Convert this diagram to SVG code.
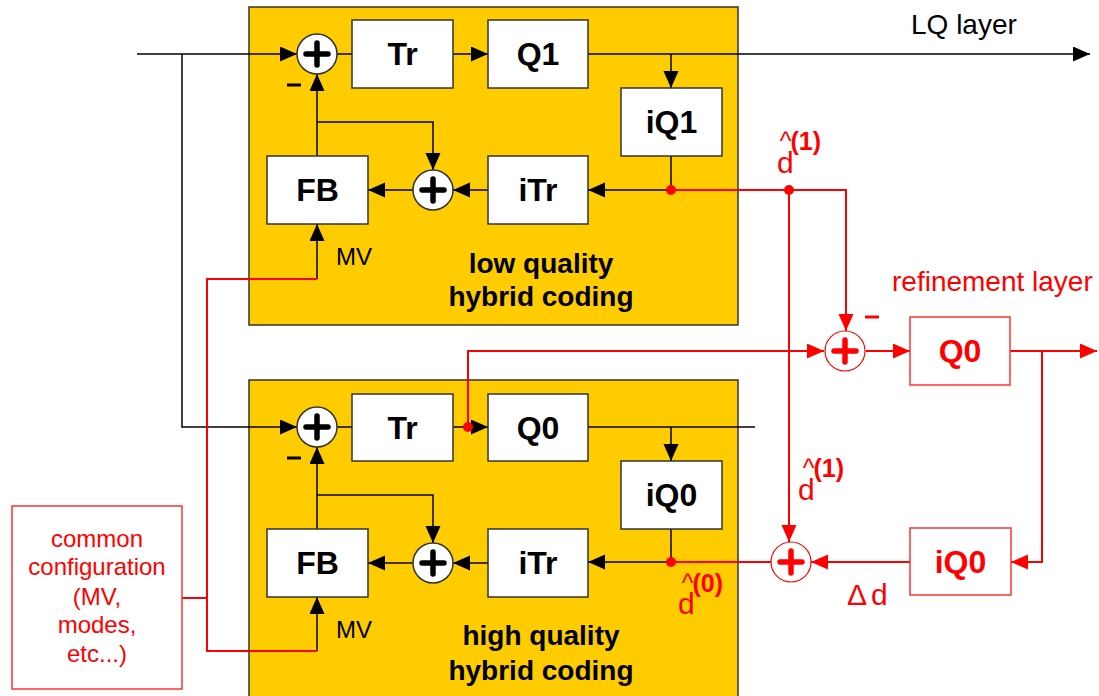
<svg xmlns="http://www.w3.org/2000/svg" width="1099" height="696" viewBox="0 0 1099 696">
<style>
.bg{fill:#fff}
.cont{fill:#FFCC00;stroke:#333;stroke-width:1.5}
.box{fill:#fff;stroke:#333;stroke-width:1.5}
.rbox{fill:#fff;stroke:#f33;stroke-width:1.5}
.lbl{font-family:"Liberation Sans",Arial,sans-serif;font-weight:bold;font-size:32px;text-anchor:middle;fill:#000}
.rlbl{font-family:"Liberation Sans",Arial,sans-serif;font-weight:bold;font-size:32px;text-anchor:middle;fill:#f00}
.big{font-family:"Liberation Sans",Arial,sans-serif;font-weight:bold;font-size:28px;text-anchor:middle;fill:#000}
.txt{font-family:"Liberation Sans",Arial,sans-serif;font-size:28px;fill:#000}
.rtxt{font-family:"Liberation Sans",Arial,sans-serif;font-size:28px;fill:#f00}
.dd{font-family:"Liberation Sans",Arial,sans-serif;font-size:30px;fill:#f00}
.cfg{font-family:"Liberation Sans",Arial,sans-serif;font-size:24px;text-anchor:middle;fill:#f00}
.mv{font-family:"Liberation Sans",Arial,sans-serif;font-size:24px;fill:#000}
.sup{font-size:25px}
.k{fill:none;stroke:#000;stroke-width:1.5}
.r{fill:none;stroke:#f00;stroke-width:2}
.sum{fill:#fff;stroke:#333;stroke-width:1.5}
.rsum{fill:#fff;stroke:#f00;stroke-width:1.2}
.plus{stroke:#000;stroke-width:5.5;stroke-linecap:round}
.rplus{stroke:#f00;stroke-width:5.5;stroke-linecap:round}
.dot{fill:#f00}
</style>
<defs>
<marker id="ak" markerUnits="userSpaceOnUse" markerWidth="18" markerHeight="16" refX="17" refY="7.5" orient="auto"><path d="M0,0 L17,7.5 L0,15 z" fill="#000"/></marker>
<marker id="ar" markerUnits="userSpaceOnUse" markerWidth="18" markerHeight="16" refX="17" refY="7.5" orient="auto"><path d="M0,0 L17,7.5 L0,15 z" fill="#f00"/></marker>
</defs>
<rect class="bg" x="0" y="0" width="1099" height="696"/>

<g id="lq-container"><rect class="cont" x="249" y="7" width="489" height="318"/>
<text class="big" x="541" y="273">low quality</text><text class="big" x="541" y="306">hybrid coding</text></g>
<g id="hq-container"><rect class="cont" x="249" y="380" width="489" height="320"/>
<text class="big" x="541" y="645">high quality</text><text class="big" x="541" y="680">hybrid coding</text></g>

<g id="connectors">
<path class="k" d="M137,54 H297" marker-end="url(#ak)"/>
<path class="k" d="M182,54 V427 H297" marker-end="url(#ak)"/>
<path class="k" d="M337,54 H352"/>
<path class="k" d="M453,54 H488" marker-end="url(#ak)"/>
<path class="k" d="M588,54 H1090" marker-end="url(#ak)"/>
<path class="k" d="M671,54 V88" marker-end="url(#ak)"/>
<path class="k" d="M671,156 V190"/>
<path class="k" d="M671,190 H588" marker-end="url(#ak)"/>
<path class="k" d="M488,190 H453" marker-end="url(#ak)"/>
<path class="k" d="M413,190 H368" marker-end="url(#ak)"/>
<path class="k" d="M317,156 V74" marker-end="url(#ak)"/>
<path class="k" d="M317,122 H433 V170" marker-end="url(#ak)"/>
<path class="k" d="M317,279 V224" marker-end="url(#ak)"/>
<path class="k" d="M337,427 H352"/>
<path class="k" d="M453,427 H488" marker-end="url(#ak)"/>
<path class="k" d="M588,427 H755"/>
<path class="k" d="M671,427 V461" marker-end="url(#ak)"/>
<path class="k" d="M671,529 V562"/>
<path class="k" d="M671,562 H588" marker-end="url(#ak)"/>
<path class="k" d="M488,563 H453" marker-end="url(#ak)"/>
<path class="k" d="M413,563 H368" marker-end="url(#ak)"/>
<path class="k" d="M317,529 V447" marker-end="url(#ak)"/>
<path class="k" d="M317,495 H433 V543" marker-end="url(#ak)"/>
<path class="k" d="M317,651 V597" marker-end="url(#ak)"/>
<path class="r" d="M182,598 H207"/>
<path class="r" d="M317,279 H207 V651 H317"/>
<path class="r" d="M671,190 H846 V331" marker-end="url(#ar)"/>
<path class="r" d="M789,190 V542" marker-end="url(#ar)"/>
<path class="r" d="M468,427 V351 H824" marker-end="url(#ar)"/>
<path class="r" d="M866,351 H910" marker-end="url(#ar)"/>
<path class="r" d="M1010,351 H1097" marker-end="url(#ar)"/>
<path class="r" d="M1042,351 V562 H1011" marker-end="url(#ar)"/>
<path class="r" d="M910,562 H811" marker-end="url(#ar)"/>
<path class="r" d="M671,562 H771"/>
<circle class="dot" cx="671" cy="190" r="5"/>
<circle class="dot" cx="789" cy="190" r="5"/>
<circle class="dot" cx="468" cy="427" r="5"/>
<circle class="dot" cx="671" cy="562" r="5"/>
</g>

<g id="sum1-top"><circle class="sum" cx="317" cy="54" r="20"/><path class="plus" d="M306,54 H328 M317,43 V65"/><path d="M287,85 H301" stroke="#000" stroke-width="3"/></g>
<g id="tr-top"><rect class="box" x="352" y="20" width="101" height="68"/><text class="lbl" x="402.5" y="65">Tr</text></g>
<g id="q1"><rect class="box" x="488" y="20" width="100" height="68"/><text class="lbl" x="538" y="65">Q1</text></g>
<g id="iq1"><rect class="box" x="621" y="88" width="101" height="68"/><text class="lbl" x="671.5" y="133">iQ1</text></g>
<g id="itr-top"><rect class="box" x="488" y="156" width="100" height="68"/><text class="lbl" x="538" y="201">iTr</text></g>
<g id="sum2-top"><circle class="sum" cx="433" cy="190" r="20"/><path class="plus" d="M422,190 H444 M433,179 V201"/></g>
<g id="fb-top"><rect class="box" x="267" y="156" width="101" height="68"/><text class="lbl" x="317.5" y="201">FB</text></g>
<g id="mv-top"><text class="mv" x="336" y="265">MV</text></g>

<g id="sum1-bot"><circle class="sum" cx="317" cy="427" r="20"/><path class="plus" d="M306,427 H328 M317,416 V438"/><path d="M287,458 H301" stroke="#000" stroke-width="3"/></g>
<g id="tr-bot"><rect class="box" x="352" y="394" width="101" height="67"/><text class="lbl" x="402.5" y="439">Tr</text></g>
<g id="q0-bot"><rect class="box" x="488" y="394" width="100" height="67"/><text class="lbl" x="538" y="439">Q0</text></g>
<g id="iq0-bot"><rect class="box" x="621" y="461" width="101" height="68"/><text class="lbl" x="671.5" y="506">iQ0</text></g>
<g id="itr-bot"><rect class="box" x="488" y="529" width="100" height="68"/><text class="lbl" x="538" y="574">iTr</text></g>
<g id="sum2-bot"><circle class="sum" cx="433" cy="563" r="20"/><path class="plus" d="M422,563 H444 M433,552 V574"/></g>
<g id="fb-bot"><rect class="box" x="267" y="529" width="101" height="68"/><text class="lbl" x="317.5" y="574">FB</text></g>
<g id="mv-bot"><text class="mv" x="336" y="638">MV</text></g>

<g id="lq-label"><text class="txt" x="911" y="34">LQ layer</text></g>
<g id="ref-label"><text class="rtxt" x="892" y="291">refinement layer</text></g>
<g id="sum-ref"><circle class="rsum" cx="845" cy="351" r="20"/><path class="rplus" d="M834,351 H856 M845,340 V362"/><path d="M865,317 H879" stroke="#f00" stroke-width="3"/></g>
<g id="q0-ref"><rect class="rbox" x="910" y="317" width="100" height="68"/><text class="rlbl" x="960" y="362">Q0</text></g>
<g id="iq0-ref"><rect class="rbox" x="910" y="528" width="101" height="67"/><text class="rlbl" x="960.5" y="573">iQ0</text></g>
<g id="sum-rec"><circle class="rsum" cx="791" cy="562" r="20"/><path class="rplus" d="M780,562 H802 M791,551 V573"/></g>
<g id="config"><rect class="rbox" x="12" y="506" width="170" height="183"/>
<text class="cfg" x="97" y="547">common</text><text class="cfg" x="97" y="575">configuration</text><text class="cfg" x="97" y="605">(MV,</text><text class="cfg" x="97" y="633">modes,</text><text class="cfg" x="97" y="662">etc...)</text></g>

<g id="dhat1-top"><text class="dd" x="777" y="173">d<tspan class="sup" dx="-14" dy="-23">^</tspan><tspan class="sup" font-weight="bold" dx="-1">(1)</tspan></text></g>
<g id="dhat1-mid"><text class="dd" x="798" y="500">d<tspan class="sup" dx="-12" dy="-23">^</tspan><tspan class="sup" font-weight="bold" dx="-1">(1)</tspan></text></g>
<g id="dhat0"><text class="dd" x="678" y="614">d<tspan class="sup" dx="-13" dy="-22">^</tspan><tspan class="sup" font-weight="bold" dx="-1">(0)</tspan></text></g>
<g id="delta-d"><text class="dd" x="847" y="605">Δ<tspan dx="4">d</tspan></text></g>
</svg>
